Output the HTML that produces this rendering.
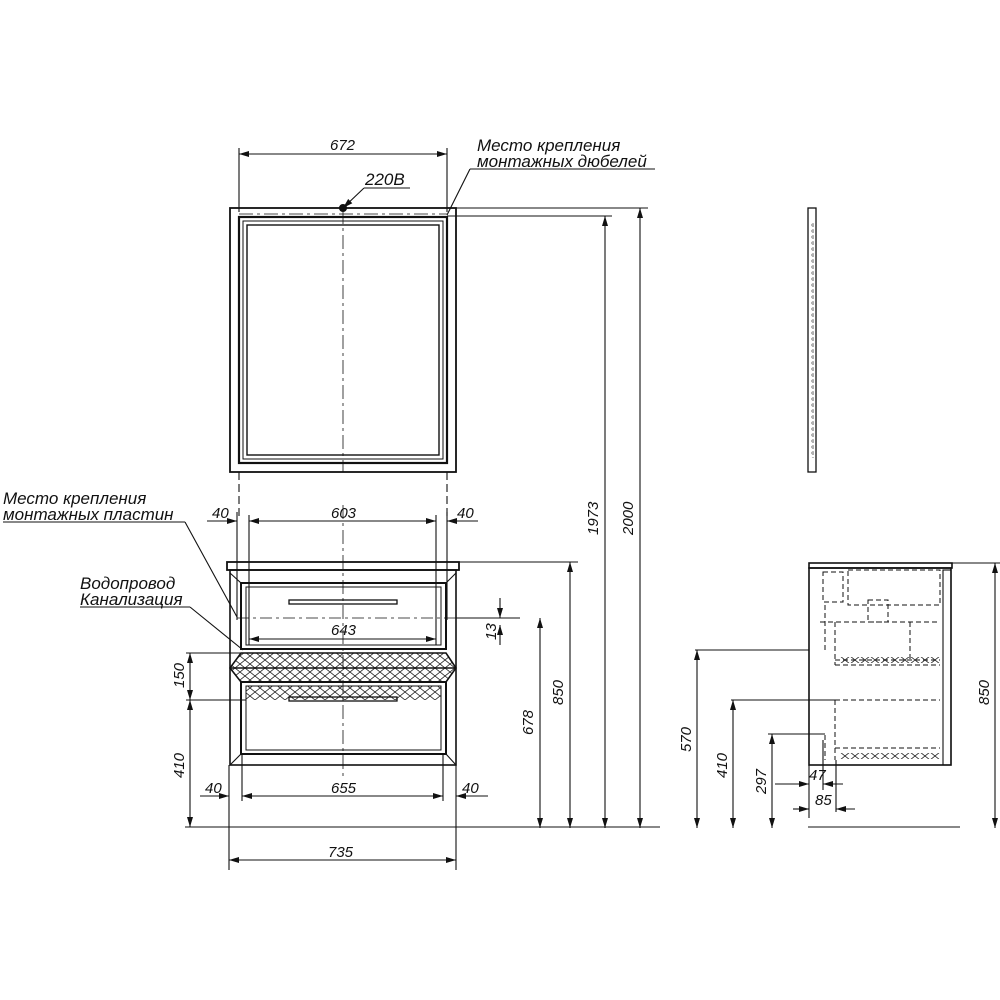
<!DOCTYPE html>
<html><head><meta charset="utf-8"><style>
html,body{margin:0;padding:0;background:#fff;}
svg{display:block}
text{font-family:"Liberation Sans",sans-serif;font-style:italic;font-size:15px;fill:#111}
text.l{font-size:17px}
</style></head><body>
<svg width="1000" height="1000" viewBox="0 0 1000 1000" xmlns="http://www.w3.org/2000/svg">
<defs>
<marker id="a" viewBox="0 0 10 6" refX="10" refY="3" markerWidth="10" markerHeight="6" orient="auto-start-reverse" markerUnits="userSpaceOnUse"><path d="M0,0 L10,3 L0,6 z" fill="#111"/></marker>
<pattern id="h" width="10" height="8" patternUnits="userSpaceOnUse"><path d="M0,0 L10,8 M10,0 L0,8" stroke="#222" stroke-width="0.8"/></pattern>
<pattern id="d" width="6" height="6" patternUnits="userSpaceOnUse"><circle cx="3" cy="3" r="1.2" fill="none" stroke="#555" stroke-width="0.7"/></pattern>
</defs>
<g stroke="#111" fill="none" stroke-width="1.1">
<!-- Mirror front -->
<rect x="230" y="208" width="226" height="264" stroke-width="1.8"/>
<rect x="239" y="217" width="208" height="246" stroke-width="2.2"/>
<rect x="243" y="221" width="200" height="238" stroke-width="1"/>
<rect x="247" y="225" width="192" height="230" stroke-width="1.4"/>
<line x1="239" y1="214" x2="447" y2="214" stroke-dasharray="14,4,3,4" stroke-width="0.8"/>
<line x1="343" y1="210" x2="343" y2="472" stroke-dasharray="14,4,3,4" stroke-width="0.8"/>
<circle cx="343" cy="208" r="3.5" fill="#111"/>
<line x1="343" y1="208" x2="364" y2="188" marker-start="url(#a)"/>
<line x1="364" y1="188" x2="410" y2="188"/>
<!-- 672 -->
<line x1="239" y1="148" x2="239" y2="212"/><line x1="447" y1="148" x2="447" y2="212"/>
<line x1="239" y1="154" x2="447" y2="154" marker-start="url(#a)" marker-end="url(#a)"/>
<!-- dowels leader -->
<line x1="447" y1="215" x2="470" y2="169"/><line x1="470" y1="169" x2="655" y2="169"/>
<!-- right heights -->
<line x1="456" y1="208" x2="648" y2="208"/>
<line x1="447" y1="216" x2="612" y2="216"/>
<line x1="605" y1="216" x2="605" y2="828" marker-start="url(#a)" marker-end="url(#a)"/>
<line x1="640" y1="208" x2="640" y2="828" marker-start="url(#a)" marker-end="url(#a)"/>
<line x1="239" y1="472" x2="239" y2="520" stroke-dasharray="8,4"/>
<line x1="447" y1="472" x2="447" y2="520" stroke-dasharray="8,4"/>
<!-- cabinet front -->
<rect x="227" y="562" width="232" height="8" stroke-width="1.8"/>
<rect x="230" y="570" width="226" height="195" stroke-width="1.6"/>
<rect x="241" y="583" width="205" height="66" stroke-width="2"/>
<rect x="246" y="587" width="195" height="58" stroke-width="1"/>
<line x1="230" y1="573" x2="241" y2="583"/><line x1="456" y1="573" x2="446" y2="583"/>
<rect x="289" y="600" width="108" height="4" stroke-width="1.3"/>
<polygon points="241,653 446,653 456,668 446,682 241,682 230,668" fill="url(#h)" stroke-width="1.6"/>
<line x1="230" y1="668" x2="456" y2="668" stroke-width="1.4"/>
<rect x="241" y="682" width="205" height="72" stroke-width="2"/>
<rect x="246" y="686" width="195" height="64" stroke-width="1"/>
<rect x="246" y="686" width="195" height="14" fill="url(#h)" stroke="none"/>
<rect x="289" y="697" width="108" height="4" stroke-width="1.3"/>
<line x1="230" y1="765" x2="241" y2="754"/><line x1="456" y1="765" x2="446" y2="754"/>
<line x1="343" y1="505" x2="343" y2="780" stroke-dasharray="14,4,3,4" stroke-width="0.8"/>
<line x1="237" y1="618" x2="456" y2="618" stroke-dasharray="12,4,3,4" stroke-width="0.8"/>
<line x1="237" y1="512" x2="237" y2="620"/><line x1="249" y1="515" x2="249" y2="645"/>
<line x1="436" y1="515" x2="436" y2="645"/><line x1="447" y1="512" x2="447" y2="620"/>
<line x1="249" y1="521" x2="436" y2="521" marker-start="url(#a)" marker-end="url(#a)"/>
<line x1="207" y1="521" x2="237" y2="521" marker-end="url(#a)"/>
<line x1="447" y1="521" x2="478" y2="521" marker-start="url(#a)"/>
<line x1="249" y1="639" x2="436" y2="639" marker-start="url(#a)" marker-end="url(#a)"/>
<line x1="229" y1="765" x2="229" y2="870"/><line x1="456" y1="765" x2="456" y2="870"/>
<line x1="242" y1="754" x2="242" y2="801"/><line x1="443" y1="754" x2="443" y2="801"/>
<line x1="242" y1="796" x2="443" y2="796" marker-start="url(#a)" marker-end="url(#a)"/>
<line x1="200" y1="796" x2="229" y2="796" marker-end="url(#a)"/>
<line x1="456" y1="796" x2="488" y2="796" marker-start="url(#a)"/>
<line x1="229" y1="860" x2="456" y2="860" marker-start="url(#a)" marker-end="url(#a)"/>
<line x1="185" y1="827" x2="660" y2="827"/>
<line x1="500" y1="598" x2="500" y2="618" marker-end="url(#a)"/>
<line x1="500" y1="645" x2="500" y2="625" marker-end="url(#a)"/>
<line x1="456" y1="618" x2="520" y2="618"/>
<line x1="459" y1="562" x2="578" y2="562"/>
<line x1="570" y1="562" x2="570" y2="828" marker-start="url(#a)" marker-end="url(#a)"/>
<line x1="540" y1="618" x2="540" y2="828" marker-start="url(#a)" marker-end="url(#a)"/>
<line x1="186" y1="653" x2="241" y2="653"/><line x1="186" y1="700" x2="246" y2="700"/>
<line x1="190" y1="653" x2="190" y2="700" marker-start="url(#a)" marker-end="url(#a)"/>
<line x1="190" y1="700" x2="190" y2="827" marker-start="url(#a)" marker-end="url(#a)"/>
<line x1="3" y1="522" x2="185" y2="522"/><line x1="185" y1="522" x2="237" y2="617"/>
<line x1="80" y1="607" x2="190" y2="607"/><line x1="190" y1="607" x2="243" y2="650"/>
<!-- side mirror -->
<rect x="808" y="208" width="8" height="264" stroke-width="1.3"/>
<rect x="810" y="222" width="4" height="236" fill="url(#d)" stroke="none"/>
<!-- side cabinet -->
<line x1="809" y1="563" x2="1000" y2="563"/>
<rect x="809" y="563" width="143" height="5" stroke-width="1.6"/>
<rect x="809" y="568" width="142" height="197" stroke-width="1.6"/>
<rect x="943" y="570" width="8" height="195"/>
<g stroke-dasharray="5,3" stroke-width="1">
<rect x="848" y="570" width="92" height="35"/>
<rect x="823" y="572" width="20" height="30"/>
<rect x="868" y="600" width="20" height="22"/>
<path d="M820,622 L940,622 M835,622 L835,665 M825,605 L825,650 M910,622 L910,660"/>
<path d="M835,660 L940,660 M835,665 L940,665"/>
<path d="M835,700 L940,700 M835,700 L835,760 M825,735 L825,760"/>
<path d="M835,748 L940,748"/>
</g>
<rect x="840" y="657" width="100" height="6" fill="url(#h)" stroke="none"/>
<rect x="840" y="753" width="100" height="6" fill="url(#h)" stroke="none"/>
<line x1="952" y1="563" x2="995" y2="563"/>
<line x1="995" y1="563" x2="995" y2="828" marker-start="url(#a)" marker-end="url(#a)"/>
<line x1="808" y1="827" x2="960" y2="827"/>
<line x1="695" y1="650" x2="809" y2="650"/>
<line x1="697" y1="650" x2="697" y2="828" marker-start="url(#a)" marker-end="url(#a)"/>
<line x1="731" y1="700" x2="835" y2="700"/>
<line x1="733" y1="700" x2="733" y2="828" marker-start="url(#a)" marker-end="url(#a)"/>
<line x1="768" y1="734" x2="825" y2="734"/>
<line x1="772" y1="734" x2="772" y2="828" marker-start="url(#a)" marker-end="url(#a)"/>
<line x1="809" y1="765" x2="809" y2="818"/><line x1="823" y1="740" x2="823" y2="790"/><line x1="836" y1="760" x2="836" y2="812"/>
<line x1="775" y1="784" x2="809" y2="784" marker-end="url(#a)"/>
<line x1="823" y1="784" x2="843" y2="784" marker-start="url(#a)"/>
<line x1="793" y1="809" x2="809" y2="809" marker-end="url(#a)"/>
<line x1="836" y1="809" x2="855" y2="809" marker-start="url(#a)"/>
</g>
<text x="330" y="150">672</text>
<text x="365" y="185" class="l">220В</text>
<text x="477" y="151" class="l">Место крепления</text>
<text x="477" y="167" class="l">монтажных дюбелей</text>
<text x="3" y="504" class="l">Место крепления</text>
<text x="3" y="520" class="l">монтажных пластин</text>
<text x="80" y="589" class="l">Водопровод</text>
<text x="80" y="605" class="l">Канализация</text>
<text x="212" y="518">40</text>
<text x="331" y="518">603</text>
<text x="457" y="518">40</text>
<text x="331" y="635">643</text>
<text x="205" y="793">40</text>
<text x="331" y="793">655</text>
<text x="462" y="793">40</text>
<text x="328" y="857">735</text>
<text x="809" y="780">47</text>
<text x="815" y="805">85</text>
<g>
<text transform="translate(598,535) rotate(-90)">1973</text>
<text transform="translate(633,535) rotate(-90)">2000</text>
<text transform="translate(563,705) rotate(-90)">850</text>
<text transform="translate(533,735) rotate(-90)">678</text>
<text transform="translate(496,640) rotate(-90)">13</text>
<text transform="translate(184,688) rotate(-90)">150</text>
<text transform="translate(184,778) rotate(-90)">410</text>
<text transform="translate(989,705) rotate(-90)">850</text>
<text transform="translate(691,752) rotate(-90)">570</text>
<text transform="translate(727,778) rotate(-90)">410</text>
<text transform="translate(766,794) rotate(-90)">297</text>
</g>
</svg>
</body></html>
